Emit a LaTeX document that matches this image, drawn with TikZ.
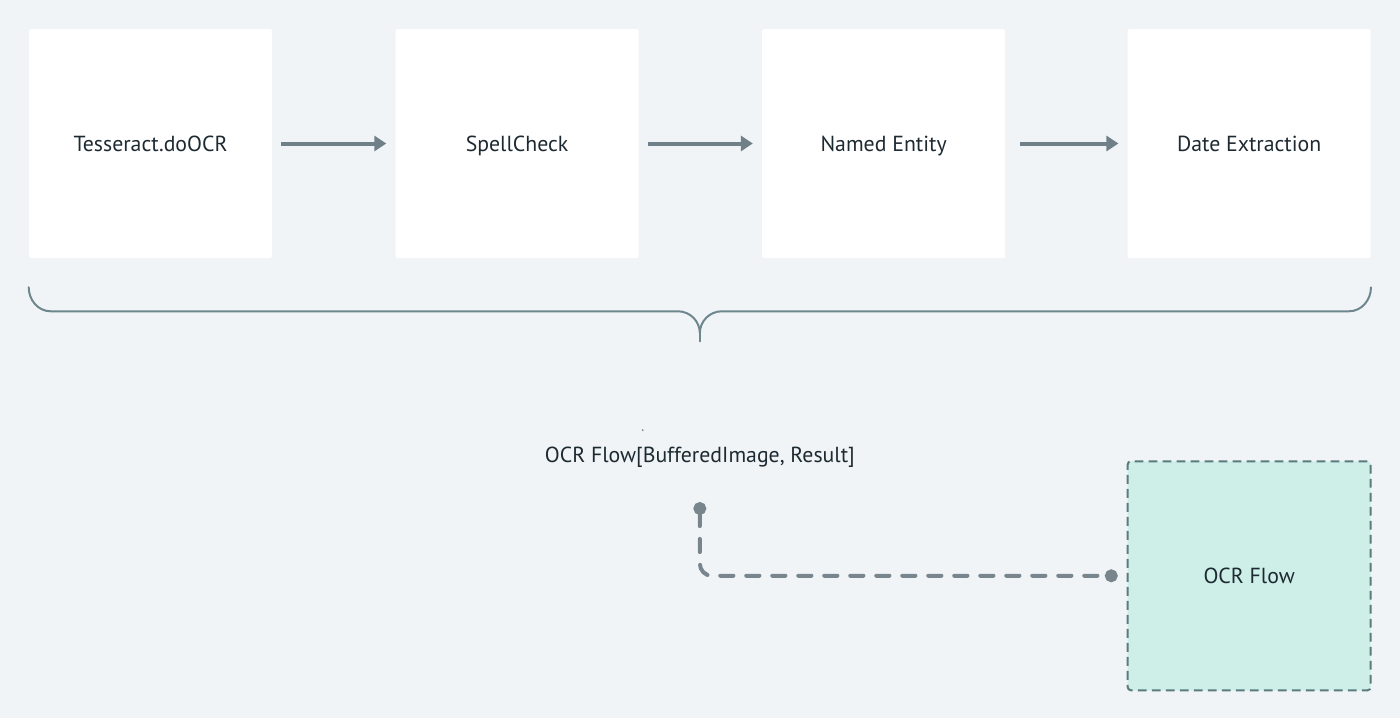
\documentclass[tikz,border=0pt]{standalone}
\usepackage{fontspec}
\setmainfont{PT Sans}
\usetikzlibrary{calc, arrows.meta, positioning}

\definecolor{bgcolor}{RGB}{240,244,247}
\definecolor{arrowgray}{RGB}{112,128,136}
\definecolor{bracegray}{RGB}{110,135,142}
\definecolor{linkgray}{RGB}{120,133,141}
\definecolor{flowfill}{RGB}{206,238,232}
\definecolor{flowborder}{RGB}{90,124,126}
\definecolor{textdark}{RGB}{30,42,50}

\begin{document}
\begin{tikzpicture} [node distance=3.075cm,
		% define styles
		stagenodestyle/.style={
			% The shape:
			rectangle,
			% The size:
			minimum width=6.075cm,
			minimum height=5.725cm,
			% The filling:
			fill=white,
			% Corners
			rounded corners=0.05cm,
			% Font
			text=textdark,
			text height=11pt,
			text depth=0pt,
			font=\fontsize{15.5}{18}\selectfont
		},
		flownodestyle/.style={
			% The shape:
			rectangle,
			% The size:
			minimum width=6.075cm,
			minimum height=5.725cm,
			% The border:
			draw=flowborder,
			line width=0.05cm,
			dash pattern=on 0.22cm off 0.13cm,
			% The filling:
			fill=flowfill,
			% Corners
			rounded corners=0.08cm,
			% Font
			text=textdark,
			text height=11pt,
			text depth=0pt,
			font=\fontsize{15.5}{18}\selectfont
		},
		labelnodestyle/.style={
			text=textdark,
			text height=11pt,
			text depth=0pt,
			font=\fontsize{15.5}{18}\selectfont
		},
		arrow/.style={
			-{Triangle[length=0.3cm, width=0.375cm]},
			% Thickness
			line width=0.1cm,
			% Color
			arrowgray,
			shorten <=0.225cm,
			shorten >=0.225cm
		},
		bracestyle/.style={
			% Thickness
			line width=0.05cm,
			% Color
			bracegray,
			line cap=round
		},
		flowlink/.style={
			{Circle[length=0.32cm]}-{Circle[length=0.32cm]},
			% Thickness
			line width=0.1cm,
			line cap=round,
			dash pattern=on 0.33cm off 0.32cm,
			rounded corners=0.3cm,
			% Color
			linkgray,
			shorten >=0.225cm
		}]
		% end of style definition

		% background
		\fill [bgcolor] (0,0) rectangle (35,-17.95);
		\useasboundingbox (0,0) rectangle (35,-17.95);

		% draw nodes
		\node (iTesseract) [stagenodestyle] at (3.7625,-3.5875) {Tesseract.doOCR};
		\node (iSpell) [stagenodestyle, right = of iTesseract] {SpellCheck};
		\node (iNamed) [stagenodestyle, right = of iSpell] {Named Entity};
		\node (iDate) [stagenodestyle, right = 3.05cm of iNamed] {Date Extraction};

		\node (iLabel) [labelnodestyle] at ($(iTesseract)!0.5!(iDate)+(0,-7.79)$) {OCR Flow[BufferedImage, Result]};
		\node (iFlow) [flownodestyle, below = 5.05cm of iDate] {OCR Flow};

		% connect nodes
		\draw [arrow] (iTesseract) -- (iSpell);
		\draw [arrow] (iSpell) -- (iNamed);
		\draw [arrow, shorten <=0.375cm] (iNamed) -- (iDate);

		% brace
		\coordinate (iBraceL) at ($(iTesseract.south west)+(0,-0.725)$);
		\coordinate (iBraceR) at ($(iDate.south east)+(0,-0.725)$);
		\coordinate (iTip) at ($(iTesseract.south)!0.5!(iDate.south)+(0,-1.875)$);
		\draw [bracestyle] (iBraceL) to[out=-90,in=180] ($(iBraceL)+(0.55,-0.6)$)
			-- ($(iTip)+(-0.55,0.55)$) to[out=0,in=90] (iTip)
			to[out=90,in=180] ($(iTip)+(0.55,0.55)$)
			-- ($(iBraceR)+(-0.55,-0.6)$) to[out=0,in=-90] (iBraceR);
		\draw [bracestyle] (iTip) -- ++(0,-0.2);

		% small mark above the label
		\fill [linkgray] ($(iLabel.center)+(-1.425,0.625)$) circle (0.025);

		% dashed link to the flow box
		\coordinate (iPort) at ($(iLabel.center)+(0,-1.175)$);
		\draw [flowlink] (iPort) |- (iFlow.west);
	\end{tikzpicture}
\end{document}
